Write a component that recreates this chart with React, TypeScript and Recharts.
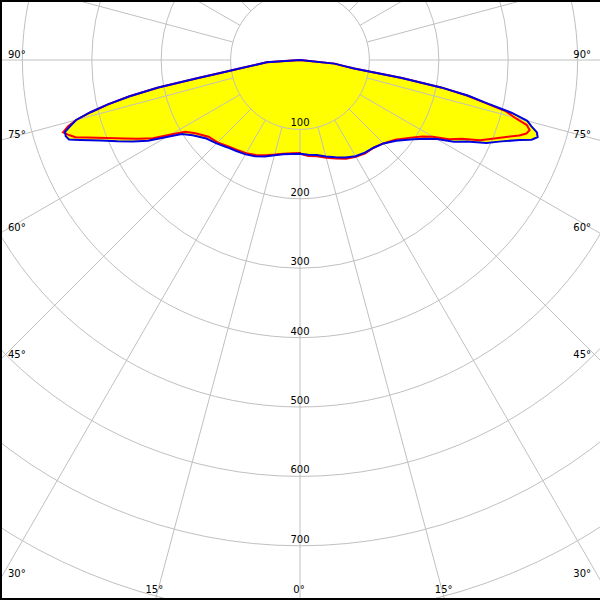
import React from 'react';
import { RadarChart, Radar, PolarGrid, PolarAngleAxis, PolarRadiusAxis } from 'recharts';

const W = 600;
const H = 600;
const CX = 300;
const CY = 60;

// right half: gamma angles (degrees from nadir) and intensities (cd)
const rightGamma = [0, 5, 10, 15, 20, 25, 30, 35, 40, 45, 50, 55, 58, 60, 62, 64, 66, 68, 70, 71, 72, 73, 74, 75, 76, 77, 78, 79, 80, 81, 82, 84, 90];
const rightBlue = [135, 137, 139, 144, 149, 155, 160, 163, 165, 170, 181, 199, 214, 228, 251, 268, 294, 313, 337, 353, 360, 357, 347, 339, 314, 275, 248, 207, 149, 79, 66, 50, 0];
const rightRed = [135, 139, 141, 146, 151, 157, 161, 164, 165, 170, 179, 195, 208, 221, 243, 259, 284, 302, 322, 334, 343, 346, 340, 320, 306, 273, 246, 207, 149, 79, 66, 50, 0];

// left half: gamma angles (degrees from nadir) and intensities (cd)
const leftGamma = [0, 5, 10, 15, 20, 25, 30, 35, 40, 45, 50, 55, 58, 60, 62, 64, 66, 68, 70, 71, 72, 73, 74, 75, 76, 77, 78, 79, 80, 81, 82, 84, 86];
const leftBlue = [135, 136, 138, 142, 148, 153, 157, 160, 164, 170, 176, 189, 201, 222, 248, 268, 288, 310, 337, 352, 355, 354, 344, 334, 311, 284, 251, 208, 149, 110, 88, 62, 48];
const leftRed = [134, 135, 137, 141, 146, 151, 155, 158, 162, 168, 172, 184, 195, 215, 240, 259, 278, 300, 326, 342, 350, 357, 348, 334, 311, 284, 251, 208, 149, 110, 88, 62, 48];

const angleTicks = [0, 15, 30, 45, 60, 75, 90, 105, 120, 135, 150, 165, 180, 195, 210, 225, 240, 255, 270, 285, 300, 315, 330, 345];
const intensityTicks = [100, 200, 300, 400, 500, 600, 700, 800];
const labelledIntensities = [100, 200, 300, 400, 500, 600, 700];

const data = [
  ...rightGamma.map((g, i) => ({ angle: g, blue: rightBlue[i], red: rightRed[i] })),
  ...leftGamma
    .map((g, i) => ({ angle: 360 - g, blue: leftBlue[i], red: leftRed[i] }))
    .reverse(),
];

const FONT = 'DejaVu Sans';

const AngleTick = (props: any) => {
  const { x, y, payload } = props;
  const v = Number(payload.value);
  const label = v <= 90 ? v : v >= 270 ? 360 - v : null;
  if (label === null) return <g />;
  const dx = x - CX;
  const dy = y - CY;
  const len = Math.hypot(dx, dy) || 1;
  const ux = dx / len;
  const uy = dy / len;
  const tX = ux < -1e-9 ? -CX / ux : ux > 1e-9 ? (W - CX) / ux : Infinity;
  const tY = uy > 1e-9 ? (H - CY) / uy : Infinity;
  let tx: number;
  let ty: number;
  let anchor: 'start' | 'end' | 'middle';
  if (tX < tY) {
    const yi = CY + tX * uy;
    ty = yi - 2.5;
    if (ux < 0) {
      tx = 8;
      anchor = 'start';
    } else {
      tx = 591;
      anchor = 'end';
    }
  } else {
    const xi = CX + tY * ux;
    tx = xi - 1;
    ty = 593;
    anchor = 'middle';
  }
  return (
    <text x={tx} y={ty} textAnchor={anchor} fontSize={10} fontFamily={FONT} fill="#000">
      {label + '°'}
    </text>
  );
};

const RadiusTick = (props: any) => {
  const { x, y, payload } = props;
  if (!labelledIntensities.includes(Number(payload.value))) return <g />;
  return (
    <text x={x} y={y - 3} textAnchor="middle" fontSize={10} fontFamily={FONT} fill="#000">
      {payload.value}
    </text>
  );
};

const chartProps = {
  width: W,
  height: H,
  cx: CX,
  cy: CY,
  innerRadius: 69.4,
  outerRadius: 694,
  startAngle: -90,
  endAngle: 270,
  data,
  margin: { top: 0, right: 0, bottom: 0, left: 0 },
};

const layer: React.CSSProperties = { position: 'absolute', left: 0, top: 0, width: W, height: H };

export default function App() {
  return (
    <div style={{ position: 'absolute', left: 0, top: 0, width: W, height: H, background: '#fff', overflow: 'hidden' }}>
      <div style={layer}>
        <RadarChart {...chartProps}>
          <PolarAngleAxis type="number" dataKey="angle" domain={[0, 360]} ticks={angleTicks} axisLine={false} tickLine={false} tick={false} />
          <PolarRadiusAxis type="number" angle={-90} domain={[100, 1000]} allowDataOverflow ticks={intensityTicks} axisLine={false} tick={false} />
          <Radar dataKey="blue" fill="#ffff00" fillOpacity={1} stroke="none" isAnimationActive={false} dot={false} activeDot={false} />
        </RadarChart>
      </div>
      <div style={layer}>
        <RadarChart {...chartProps}>
          <PolarGrid gridType="circle" stroke="#c0c0c0" strokeWidth={1} />
          <PolarAngleAxis
            type="number"
            dataKey="angle"
            domain={[0, 360]}
            ticks={angleTicks}
            axisLine={false}
            tickLine={false}
            tick={<AngleTick />}
          />
          <PolarRadiusAxis
            type="number"
            angle={-90}
            domain={[100, 1000]}
            allowDataOverflow
            ticks={intensityTicks}
            axisLine={false}
            tick={<RadiusTick />}
          />
          <Radar dataKey="red" fill="none" fillOpacity={0} stroke="#ff0000" strokeWidth={2} isAnimationActive={false} dot={false} activeDot={false} />
          <Radar dataKey="blue" fill="none" fillOpacity={0} stroke="#0000e0" strokeWidth={2} isAnimationActive={false} dot={false} activeDot={false} />
        </RadarChart>
      </div>
      <div
        style={{
          ...layer,
          boxSizing: 'border-box',
          borderTop: '2px solid #000',
          borderLeft: '2px solid #000',
          borderBottom: '2px solid #000',
          pointerEvents: 'none',
        }}
      />
    </div>
  );
}
